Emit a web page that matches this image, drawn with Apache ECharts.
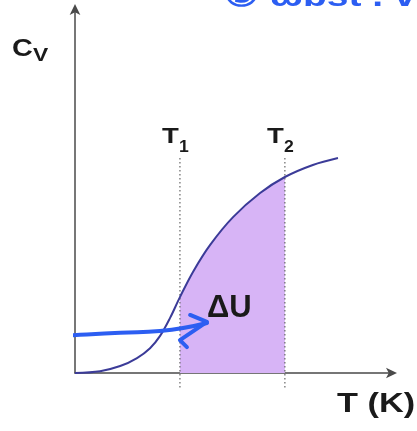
<!DOCTYPE html>
<html>
<head>
<meta charset="utf-8">
<script src="https://cdn.jsdelivr.net/npm/echarts@6/dist/echarts.min.js"></script>
<style>
  html, body { margin: 0; padding: 0; background: #ffffff; }
  #chart { width: 417px; height: 431px; }
</style>
</head>
<body>
<div id="chart"></div>
<script>
// Heat capacity curve Cv(T), arbitrary units
const temps = [0, 7.9, 14.2, 19.5, 23.6, 26.7, 29.9, 33.0, 37.1, 42.5, 49.7, 58.2, 66.0, 74.8, 82.7];
const cv    = [0, 0.5, 1.9, 4.1, 6.8, 10.1, 15.1, 20.8, 27.7, 35.1, 42.7, 49.3, 53.7, 57.0, 58.9];

// Integration limits and the extent of their guide lines
const T1 = 33.0;
const T2 = 66.0;
const limitTop = 59.5;
const limitBottom = -4;

// Hand-drawn pointer to the shaded area
const pointerShaft = [[-23.6, 8.2], [-13.2, 9.6], [14.2, 11.0], [26.7, 11.5], [41.5, 13.7]];
const pointerHead  = [[36.2, 15.9], [41.5, 14.0], [33.0, 9.0], [35.2, 7.1]];

// Where the ΔU label sits
const deltaULabelAt = [41.5, 21.9];

const curve = temps.map((t, i) => [t, cv[i]]);
const shaded = curve.filter(p => p[0] >= T1 && p[0] <= T2);

const FONT = '"Liberation Sans", Arial, sans-serif';
const INK = '#1a1a1a';
const PEN = '#2c5ef2';
const chart = echarts.init(document.getElementById('chart'), null, { renderer: 'canvas' });

const limitSeries = (t) => ({
  type: 'line', data: [[t, limitBottom], [t, limitTop]], showSymbol: false, clip: false, z: 2,
  lineStyle: { color: '#666666', type: [1.5, 2.5], width: 1.2 }
});

chart.setOption({
  animation: false,
  backgroundColor: '#ffffff',
  grid: { left: 75, right: 24, top: 8, bottom: 58 },
  xAxis: {
    type: 'value', min: 0, max: 100,
    axisLine: { onZero: false, symbol: ['none', 'arrow'], symbolSize: [8, 11], symbolOffset: [0, 4],
                lineStyle: { color: '#4a4a4a', width: 1.5 } },
    axisTick: { show: false }, axisLabel: { show: false }, splitLine: { show: false }
  },
  yAxis: {
    type: 'value', min: 0, max: 100,
    axisLine: { onZero: false, symbol: ['none', 'arrow'], symbolSize: [8, 11], symbolOffset: [0, 4],
                lineStyle: { color: '#4a4a4a', width: 1.5 } },
    axisTick: { show: false }, axisLabel: { show: false }, splitLine: { show: false }
  },
  series: [
    {
      // Energy change between T1 and T2: area under Cv
      type: 'line', data: shaded, smooth: 0.35, showSymbol: false, clip: false, z: 1,
      lineStyle: { width: 0 },
      areaStyle: { color: '#d7b4f6', opacity: 1 }
    },
    limitSeries(T1),
    limitSeries(T2),
    {
      type: 'line', data: curve, smooth: 0.35, showSymbol: false, clip: false, z: 3,
      lineStyle: { color: '#3b3b98', width: 2 }
    },
    {
      type: 'line', data: pointerShaft, smooth: true, showSymbol: false, clip: false, z: 4,
      lineStyle: { color: PEN, width: 4, cap: 'round' }
    },
    {
      type: 'line', data: pointerHead, smooth: false, showSymbol: false, clip: false, z: 4,
      lineStyle: { color: PEN, width: 4, cap: 'round', join: 'round' }
    }
  ]
});

// Text labels, anchored through the axes' scales
const px = (p) => chart.convertToPixel({ gridIndex: 0 }, p);
const boldText = (x, y, text, size, fill, scaleX, vAlign) => ({
  type: 'text', x: x, y: y, scaleX: scaleX || 1, z: 10,
  style: { text: text, fontFamily: FONT, fontWeight: 'bold', fontSize: size, fill: fill,
           textVerticalAlign: vAlign || 'middle' }
});
const limitText = (t, sub) => {
  const p = px([t, limitTop]);
  return [
    boldText(p[0] - 18, p[1] - 19, 'T', 22, INK, 1.25),
    boldText(p[0] - 1, p[1] - 8, sub, 16, INK, 1.1)
  ];
};
const du = px(deltaULabelAt);

chart.setOption({
  graphic: [
    ...limitText(T1, '1'),
    ...limitText(T2, '2'),
    boldText(du[0], du[1], 'ΔU', 31, INK, 1, 'top'),
    boldText(12, 49, 'C', 24, INK, 1.2),
    boldText(33, 56, 'V', 19, INK, 1.2),
    boldText(337, 405, 'T (K)', 27, INK, 1.27),
    boldText(224, -2, '③ ωbst . v', 30, PEN, 1.3)
  ]
});
</script>
</body>
</html>
